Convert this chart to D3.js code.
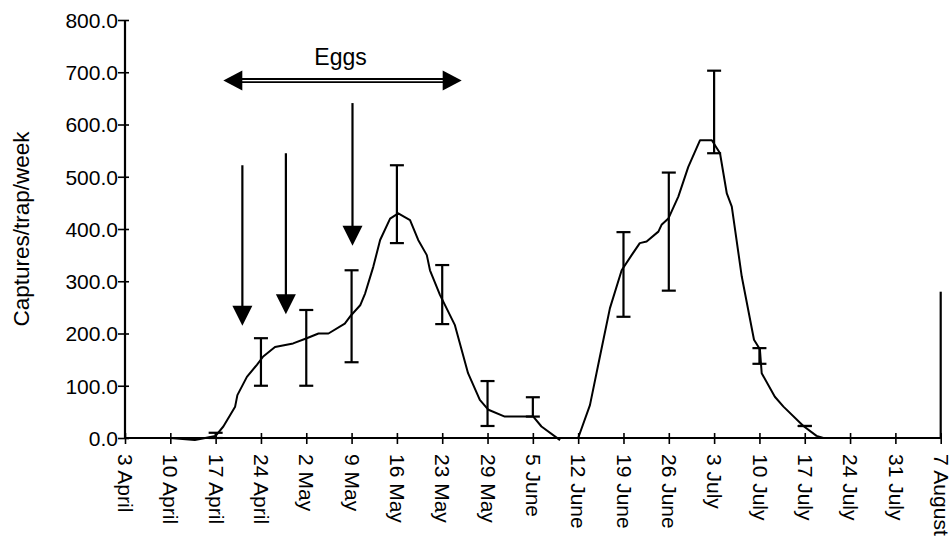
<!DOCTYPE html>
<html>
<head>
<meta charset="utf-8">
<script src="https://cdn.jsdelivr.net/npm/d3@7/dist/d3.min.js"></script>
<style>
  html, body { margin: 0; padding: 0; background: #fff; }
  svg { display: block; font-family: "Liberation Sans", Arial, sans-serif; }
</style>
</head>
<body>
<svg id="chart" width="949" height="543"></svg>
<script>
// ---- data ----
const weekLabels = ["3 April","10 April","17 April","24 April","2 May","9 May","16 May","23 May","29 May","5 June","12 June","19 June","26 June","3 July","10 July","17 July","24 July","31 July","7 August"];
const yTicks = [0,100,200,300,400,500,600,700,800];

// curve 1 (week position, captures/trap/week)
const curve1Weeks  = [0,1.0,1.54,2.0,2.17,2.43,2.48,2.69,2.91,3.05,3.31,3.71,4.01,4.27,4.49,4.85,4.99,5.19,5.30,5.48,5.63,5.85,6.03,6.29,6.47,6.66,6.73,6.95,7.28,7.57,7.83,8.02,8.38,9.01,9.19,9.60];
const curve1Values = [0,0,-4,4,22,60,82,117,140,156,174,181,191,200,200,219,235,254,277,328,379,420,430,417,379,350,321,274,216,124,73,54,41,41,22,-4];
// curve 2
const curve2Weeks  = [10.0,10.26,10.48,10.70,10.96,11.18,11.36,11.51,11.77,11.84,11.99,12.21,12.43,12.69,12.95,13.13,13.28,13.39,13.61,13.88,14.01,14.05,14.34,14.53,14.97,15.26,15.41,18.0];
const curve2Values = [0,63,156,248,321,350,373,376,395,408,420,462,519,570,570,545,468,443,309,188,170,124,79,60,23,4,0,0];

// error bars
const errWeeks = [2,3,4,5,6,7,8,9,11,12,13,14,15];
const errLow   = [0,100,100,145,373,218,23,41,232,282,545,142,23];
const errHigh  = [10,191,245,321,522,331,109,78,394,508,703,172,23];

// downward arrows: week, top value, tip value
const arrowWeeks = [2.59,3.55,5.02];
const arrowTops  = [522,545,641];
const arrowTips  = [215,237,368];

// "Eggs" double arrow
const eggsFromWeek = 2.17, eggsToWeek = 7.43, eggsValue = 684;
const eggsLabel = "Eggs";
const yTitle = "Captures/trap/week";

// ---- chart ----
const svg = d3.select("#chart");
const x = d3.scaleLinear().domain([0, 18]).range([125, 940.7]);
const y = d3.scaleLinear().domain([0, 800]).range([438, 20]);

const ink = "#000";

// y axis
const yAxis = d3.axisLeft(y).tickValues(yTicks).tickSize(0).tickFormat(d3.format(".1f"));
const gy = svg.append("g").attr("transform", `translate(${x(0)},0)`).call(yAxis);
gy.select(".domain").remove();
gy.selectAll(".tick text").attr("x", -7).attr("dy", "0.35em")
  .style("font-size", "21px").attr("fill", ink).style("font-family", "'Liberation Sans', Arial, sans-serif");
gy.selectAll(".tick").append("line").attr("x1", -7).attr("x2", 4).attr("stroke", ink).attr("stroke-width", 1.6);
svg.append("line").attr("x1", x(0)).attr("x2", x(0)).attr("y1", y(800)).attr("y2", y(0))
  .attr("stroke", ink).attr("stroke-width", 2.2);

// x axis
const xAxis = d3.axisBottom(x).tickValues(d3.range(weekLabels.length)).tickSize(0).tickFormat(i => weekLabels[i]);
const gx = svg.append("g").attr("transform", `translate(0,${y(0)})`).call(xAxis);
gx.select(".domain").remove();
gx.selectAll(".tick text")
  .attr("y", 0).attr("dy", "0.35em").attr("x", 0)
  .attr("transform", "translate(0,16) rotate(90)")
  .style("text-anchor", "start")
  .style("font-size", "21px").attr("fill", ink).style("font-family", "'Liberation Sans', Arial, sans-serif");
gx.selectAll(".tick").append("line").attr("y1", -5).attr("y2", 6).attr("stroke", ink).attr("stroke-width", 1.6);
svg.append("line").attr("x1", x(0)).attr("x2", x(18)).attr("y1", y(0)).attr("y2", y(0))
  .attr("stroke", ink).attr("stroke-width", 2.2);
// right end vertical line
svg.append("line").attr("x1", x(18)).attr("x2", x(18)).attr("y1", y(0)).attr("y2", y(280))
  .attr("stroke", ink).attr("stroke-width", 2.2);

// y title
svg.append("text").attr("transform", `translate(29,${(y(0)+y(800))/2}) rotate(-90)`)
  .attr("text-anchor", "middle").style("font-size", "22.5px").attr("fill", ink).text(yTitle);

// curves
const line = d3.line().x(d => x(d[0])).y(d => y(d[1]));
[[curve1Weeks, curve1Values], [curve2Weeks, curve2Values]].forEach(([w, v]) => {
  svg.append("path").datum(w.map((d, i) => [d, v[i]]))
    .attr("d", line).attr("fill", "none").attr("stroke", ink).attr("stroke-width", 2)
    .attr("stroke-linejoin", "round");
});

// error bars
const capHalf = 7;
const eb = svg.append("g").attr("stroke", ink).attr("stroke-width", 2.2);
errWeeks.forEach((w, i) => {
  const cx = x(w);
  eb.append("line").attr("x1", cx).attr("x2", cx).attr("y1", y(errLow[i])).attr("y2", y(errHigh[i]));
  eb.append("line").attr("x1", cx - capHalf).attr("x2", cx + capHalf).attr("y1", y(errLow[i])).attr("y2", y(errLow[i]));
  eb.append("line").attr("x1", cx - capHalf).attr("x2", cx + capHalf).attr("y1", y(errHigh[i])).attr("y2", y(errHigh[i]));
});

// downward arrows
arrowWeeks.forEach((w, i) => {
  const ax = x(w), tip = y(arrowTips[i]), top = y(arrowTops[i]);
  svg.append("line").attr("x1", ax).attr("x2", ax).attr("y1", top).attr("y2", tip - 18)
    .attr("stroke", ink).attr("stroke-width", 2.2);
  svg.append("path").attr("d", `M${ax - 10},${tip - 20}L${ax + 10},${tip - 20}L${ax},${tip}Z`).attr("fill", ink);
});

// Eggs double arrow
const ex1 = x(eggsFromWeek), ex2 = x(eggsToWeek), ey = y(eggsValue);
svg.append("line").attr("x1", ex1 + 16).attr("x2", ex2 - 16).attr("y1", ey).attr("y2", ey)
  .attr("stroke", ink).attr("stroke-width", 5);
svg.append("line").attr("x1", ex1 + 18).attr("x2", ex2 - 18).attr("y1", ey).attr("y2", ey)
  .attr("stroke", "#fff").attr("stroke-width", 1.3);
svg.append("path").attr("d", `M${ex1},${ey}L${ex1 + 19},${ey - 10}L${ex1 + 19},${ey + 10}Z`).attr("fill", ink);
svg.append("path").attr("d", `M${ex2},${ey}L${ex2 - 19},${ey - 10}L${ex2 - 19},${ey + 10}Z`).attr("fill", ink);
svg.append("text").attr("x", x((eggsFromWeek + eggsToWeek) / 2) - 2).attr("y", ey - 16)
  .attr("text-anchor", "middle").style("font-size", "23px").attr("fill", ink).text(eggsLabel);
</script>
</body>
</html>
